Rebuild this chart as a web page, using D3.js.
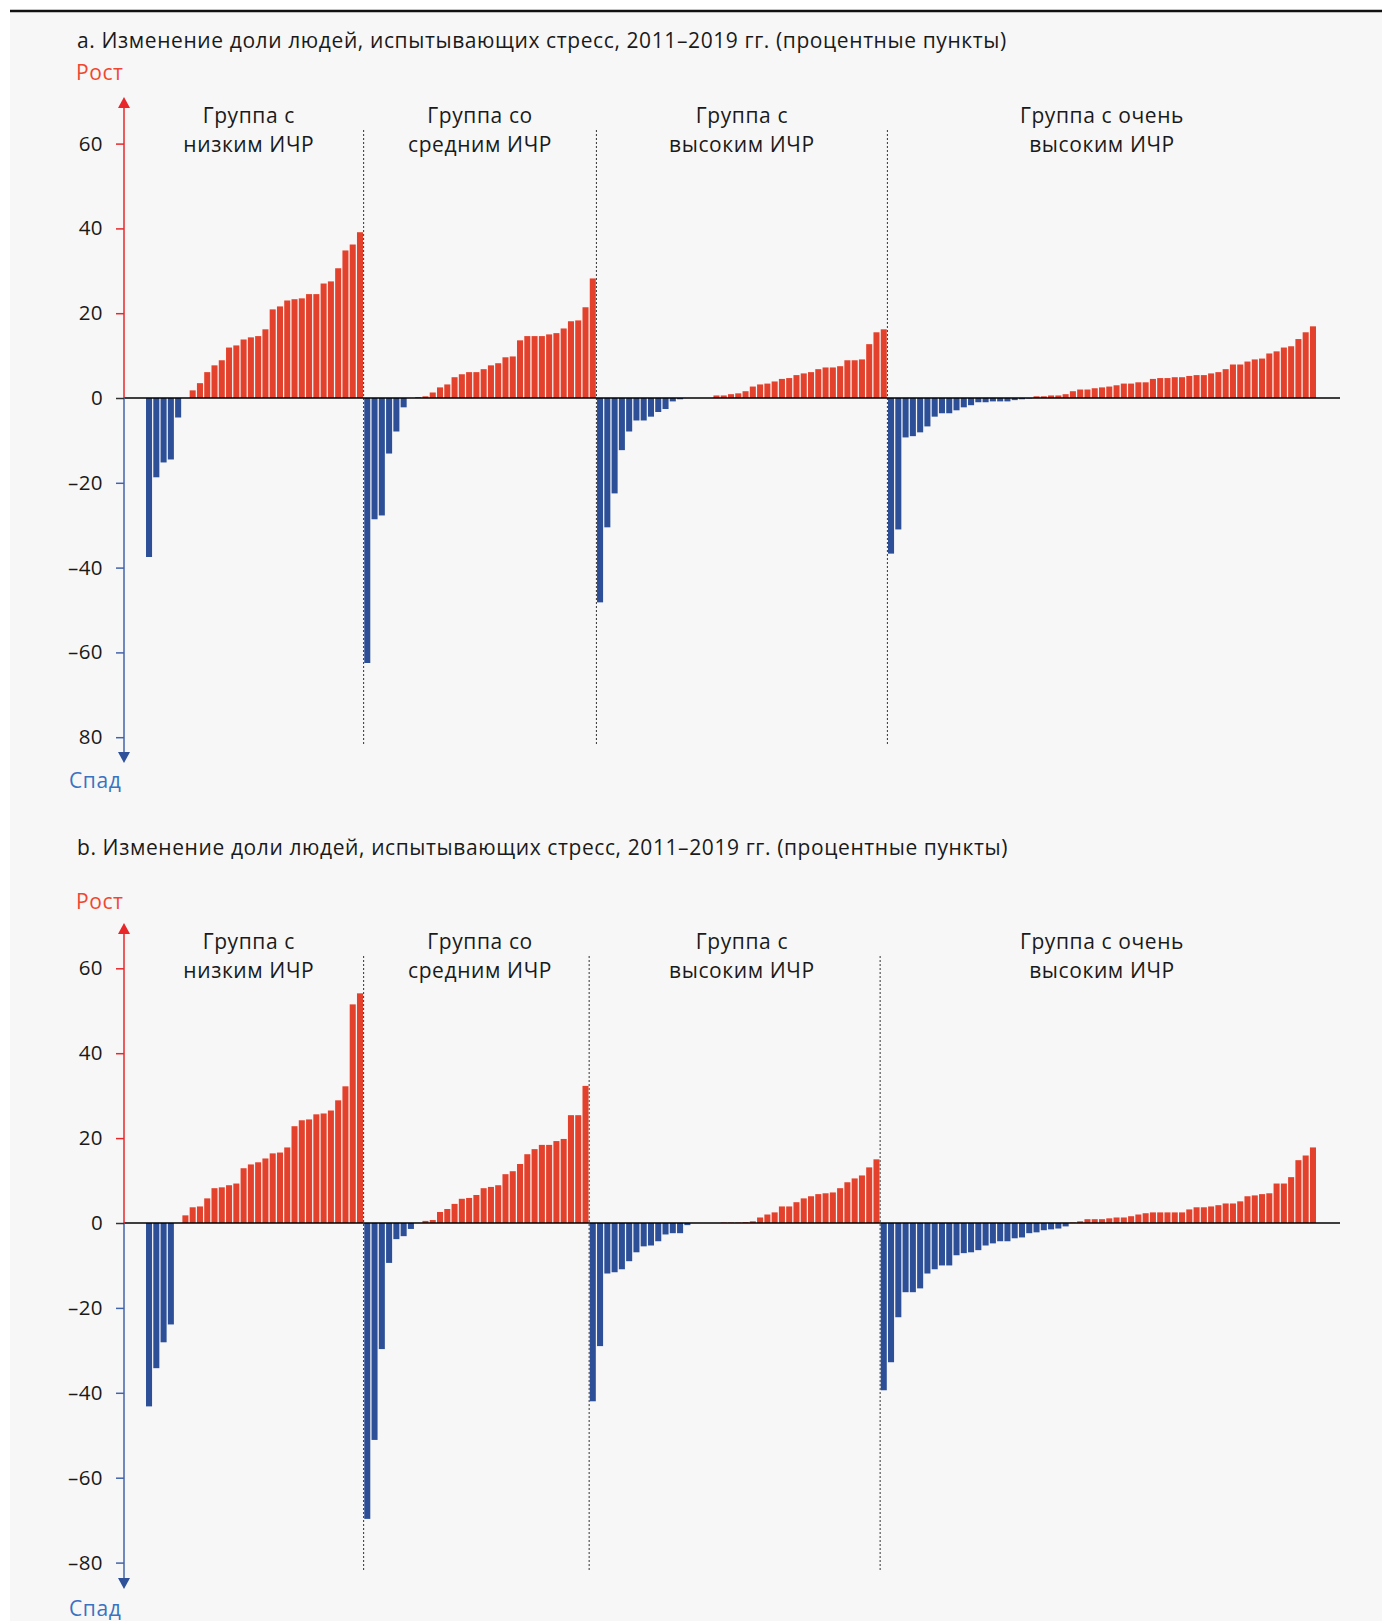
<!DOCTYPE html>
<html>
<head>
<meta charset="utf-8">
<script src="https://cdn.jsdelivr.net/npm/d3@7"></script>
<style>
  html, body { margin: 0; padding: 0; background: #ffffff; }
  svg { display: block; }
  text { font-family: "Open Sans", "Noto Sans", sans-serif; }
</style>
</head>
<body>
<svg id="chart" width="1382" height="1621"></svg>
<script>
// ---------- DATA ----------
const titleA = "a. Изменение доли людей, испытывающих стресс, 2011–2019 гг. (процентные пункты)";
const titleB = "b. Изменение доли людей, испытывающих стресс, 2011–2019 гг. (процентные пункты)";
const upLabel = "Рост";
const downLabel = "Спад";
const groupLabels = [
  ["Группа с", "низким ИЧР"],
  ["Группа со", "средним ИЧР"],
  ["Группа с", "высоким ИЧР"],
  ["Группа с очень", "высоким ИЧР"]
];
const tickValues = [60, 40, 20, 0, -20, -40, -60, -80];
const tickLabelsA = ["60", "40", "20", "0", "–20", "–40", "–60", "80"];
const tickLabelsB = ["60", "40", "20", "0", "–20", "–40", "–60", "–80"];

// Panel a
const aLow = [-37.5, -18.7, -15.2, -14.5, -4.6, 0,
  1.8, 3.5, 6.1, 7.7, 8.9, 11.9, 12.4, 13.8, 14.3, 14.6, 16.2, 20.9, 21.6, 23.0,
  23.3, 23.5, 24.5, 24.5, 27.0, 27.5, 30.6, 34.8, 36.2, 39.1];
const aMid = [-62.5, -28.6, -27.7, -13.1, -7.9, -2.2, 0, 0.2,
  0.4, 1.3, 2.5, 3.2, 4.9, 5.6, 6.1, 6.1, 6.8, 7.7, 8.2, 9.6, 9.8, 13.6,
  14.6, 14.6, 14.6, 15.0, 15.3, 16.4, 18.1, 18.3, 21.4, 28.2];
const aHigh = [-48.2, -30.5, -22.5, -12.3, -7.9, -5.3, -5.3, -4.4, -3.3, -2.6, -0.8, -0.3,
  0, 0, 0, 0,
  0.6, 0.6, 0.9, 1.1, 1.6, 2.7, 3.2, 3.4, 3.9, 4.5, 4.7, 5.4, 5.8, 6.1, 6.8, 7.2,
  7.2, 7.5, 8.9, 8.9, 9.1, 12.7, 15.5, 16.2];
const aVeryHigh = [-36.7, -31.0, -9.3, -9.0, -8.1, -6.7, -4.4, -3.6, -3.6, -2.9,
  -2.2, -1.7, -1.0, -1.0, -0.8, -0.8, -0.8, -0.5, -0.3, -0.1,
  0.4, 0.4, 0.6, 0.6, 0.9, 1.6, 2.0, 2.0, 2.3, 2.5, 2.7, 3.0, 3.4, 3.4, 3.7, 3.7,
  4.5, 4.7, 4.7, 4.9, 4.9, 5.2, 5.4, 5.4, 5.8, 6.1, 6.8, 7.9, 7.9, 8.6, 9.1, 9.3,
  10.5, 11.0, 11.9, 12.2, 13.9, 15.5, 16.9];

// Panel b
const bLow = [-43.2, -34.2, -28.1, -23.9, 0,
  1.8, 3.7, 3.9, 5.8, 8.2, 8.4, 8.9, 9.3, 12.9, 13.8, 14.3, 15.2, 16.4, 16.6, 17.8,
  22.8, 24.2, 24.4, 25.6, 25.8, 26.5, 28.9, 32.2, 51.5, 54.1];
const bMid = [-69.7, -51.1, -29.7, -9.4, -3.8, -3.1, -1.4, 0,
  0.5, 0.7, 2.6, 3.3, 4.5, 5.7, 5.9, 6.6, 8.2, 8.5, 8.9, 11.5, 12.2, 13.9, 16.2,
  17.4, 18.4, 18.4, 19.3, 19.8, 25.4, 25.4, 32.3];
const bHigh = [-42.0, -29.0, -11.9, -11.6, -10.9, -9.0, -6.9, -5.5, -5.3, -4.3, -2.7, -2.4, -2.4, -0.5,
  0, 0, 0, 0,
  0.1, 0.1, 0.1, 0.2, 0.4, 1.3, 2.0, 2.5, 3.9, 3.9, 4.9, 5.8, 6.3, 6.8, 7.0, 7.2,
  8.2, 9.6, 10.5, 11.2, 13.1, 15.0];
const bVeryHigh = [-39.4, -32.8, -22.2, -16.3, -16.3, -15.4, -11.9, -10.9, -10.0, -10.0,
  -7.6, -7.1, -6.9, -6.4, -5.3, -4.8, -4.3, -4.3, -3.6, -3.4, -2.4, -2.2, -1.7, -1.5, -1.3, -0.8,
  0.1, 0.4, 0.9, 0.9, 0.9, 1.1, 1.3, 1.3, 1.6, 2.0, 2.3, 2.5, 2.5, 2.5, 2.5, 2.5,
  3.2, 3.7, 3.7, 3.9, 4.2, 4.6, 4.6, 5.1, 6.3, 6.5, 6.8, 7.0, 9.3, 9.3, 10.8, 14.8, 15.9, 17.8];

// ---------- STYLE ----------
const RED = "#e3412b";
const BLUE = "#2c4f97";
const AXIS_RED = "#e8272b";
const AXIS_BLUE = "#4264ac";
const TEXT = "#1a1a1a";
const FONT = '"Open Sans", "Noto Sans", sans-serif';

const svg = d3.select("#chart");
svg.append("rect").attr("x", 10).attr("y", 11).attr("width", 1372).attr("height", 1610).attr("fill", "#f7f7f7");
svg.append("line").attr("x1", 10).attr("x2", 1382).attr("y1", 11).attr("y2", 11)
  .attr("stroke", "#111").attr("stroke-width", 2.5);

const axisX = 124;
const xLeft = 145.4, xRight = 1316.6;

function drawPanel(cfg) {
  const groups = cfg.groups;
  const all = [];
  const starts = [];
  groups.forEach((g, gi) => {
    starts.push(all.length);
    g.forEach(v => all.push({ v, g: gi }));
  });
  const x = d3.scaleBand().domain(d3.range(all.length)).range([xLeft, xRight])
    .paddingInner(0.17).paddingOuter(0.085);
  const y = d3.scaleLinear().domain([-80, 60]).range([cfg.zeroY + 80 * cfg.k, cfg.zeroY - 60 * cfg.k]);
  const g = svg.append("g");

  // title
  g.append("text").attr("x", 77).attr("y", cfg.titleY).attr("font-size", 21)
    .attr("letter-spacing", 0.6).attr("fill", TEXT).text(cfg.title);
  g.append("text").attr("x", 76).attr("y", cfg.upY).attr("font-size", 21)
    .attr("letter-spacing", 0.6).attr("fill", "#f1472f").text(upLabel);
  g.append("text").attr("x", 69).attr("y", cfg.downY).attr("font-size", 21)
    .attr("letter-spacing", 0.6).attr("fill", "#3a72c2").text(downLabel);

  // group dividers
  const step = x.step();
  const divX = i => x(i) - step * x.paddingInner() / 2;
  starts.slice(1).forEach(s => {
    g.append("line").attr("x1", divX(s)).attr("x2", divX(s))
      .attr("y1", cfg.divTop).attr("y2", cfg.divBottom)
      .attr("stroke", "#333").attr("stroke-width", 1).attr("stroke-dasharray", "2,2");
  });

  // bars
  g.append("g").selectAll("rect").data(all).join("rect")
    .attr("x", (d, i) => x(i))
    .attr("width", x.bandwidth())
    .attr("y", d => y(Math.max(0, d.v)))
    .attr("height", d => Math.abs(y(d.v) - y(0)))
    .attr("fill", d => d.v >= 0 ? RED : BLUE);

  // zero line
  g.append("line").attr("x1", axisX).attr("x2", 1340).attr("y1", y(0)).attr("y2", y(0))
    .attr("stroke", "#000").attr("stroke-opacity", 0.75).attr("stroke-width", 2);

  // vertical axis (red up, blue down) with arrows
  g.append("line").attr("x1", axisX).attr("x2", axisX).attr("y1", cfg.arrowTop + 10).attr("y2", y(0))
    .attr("stroke", AXIS_RED).attr("stroke-width", 1.5);
  g.append("line").attr("x1", axisX).attr("x2", axisX).attr("y1", y(0)).attr("y2", cfg.arrowBottom - 10)
    .attr("stroke", AXIS_BLUE).attr("stroke-width", 1.5);
  g.append("path").attr("d", `M${axisX},${cfg.arrowTop} L${axisX + 6},${cfg.arrowTop + 11} L${axisX - 6},${cfg.arrowTop + 11}Z`)
    .attr("fill", AXIS_RED);
  g.append("path").attr("d", `M${axisX},${cfg.arrowBottom} L${axisX + 6},${cfg.arrowBottom - 11} L${axisX - 6},${cfg.arrowBottom - 11}Z`)
    .attr("fill", "#2f519a");

  const ax = d3.axisLeft(y).tickValues(tickValues)
    .tickFormat((d, i) => cfg.tickLabels[i]).tickSize(8).tickPadding(13);
  const axG = g.append("g").attr("transform", `translate(${axisX},0)`).call(ax);
  axG.select(".domain").remove();
  axG.selectAll(".tick line").attr("stroke", d => d > 0 ? AXIS_RED : (d < 0 ? AXIS_BLUE : "#333")).attr("stroke-width", 1.5);
  axG.selectAll(".tick text").attr("font-size", 20.5).attr("fill", TEXT).attr("font-family", FONT)
    .attr("letter-spacing", 0.4);

  // group labels (positions shared across panels, from layout of panel a)
  cfg.labelCenters.forEach((cx, i) => {
    const t = g.append("text").attr("text-anchor", "middle").attr("font-size", 21)
      .attr("letter-spacing", 0.6).attr("fill", TEXT);
    t.append("tspan").attr("x", cx).attr("y", cfg.labelY).text(groupLabels[i][0]);
    t.append("tspan").attr("x", cx).attr("y", cfg.labelY + 28.5).text(groupLabels[i][1]);
  });
}

// label centers from panel a layout
function centersFor(groups) {
  const n = d3.sum(groups, g => g.length);
  const x = d3.scaleBand().domain(d3.range(n)).range([xLeft, xRight]).paddingInner(0.17).paddingOuter(0.085);
  const step = x.step();
  const edges = [];
  let s = 0;
  groups.forEach(g => { edges.push(s); s += g.length; });
  const div = i => x(i) - step * 0.085;
  const bounds = edges.map(e => div(e));
  bounds[0] = x(0) - 12;
  bounds.push(xRight);
  return groups.map((g, i) => (bounds[i] + bounds[i + 1]) / 2);
}
const groupsA = [aLow, aMid, aHigh, aVeryHigh];
const groupsB = [bLow, bMid, bHigh, bVeryHigh];
const centers = centersFor(groupsA);

drawPanel({
  groups: groupsA, title: titleA, tickLabels: tickLabelsA,
  zeroY: 398, k: 4.24, titleY: 48, upY: 80, downY: 788,
  arrowTop: 97, arrowBottom: 763, divTop: 130, divBottom: 746,
  labelY: 123, labelCenters: centers
});
drawPanel({
  groups: groupsB, title: titleB, tickLabels: tickLabelsB,
  zeroY: 1223, k: 4.245, titleY: 855, upY: 909, downY: 1616,
  arrowTop: 923, arrowBottom: 1589, divTop: 956, divBottom: 1572,
  labelY: 949, labelCenters: centers
});
</script>
</body>
</html>
